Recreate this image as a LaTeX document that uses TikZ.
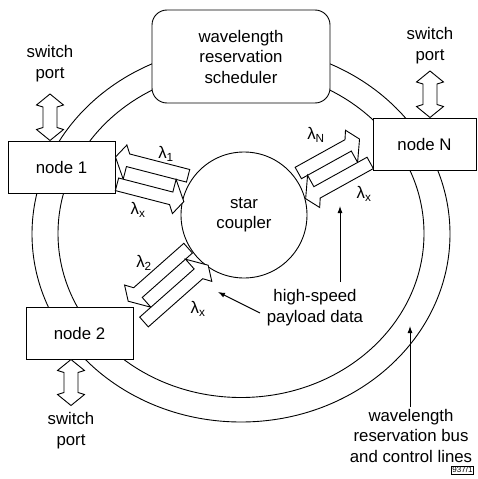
\documentclass[tikz,border=0pt]{standalone}
\usepackage{fontspec}
\setmainfont{Liberation Sans}
\usetikzlibrary{arrows.meta}
\tikzset{
  thin line/.style={line width=0.9pt},
  box/.style={draw, line width=0.9pt, fill=white, inner sep=0pt, align=center},
  hollow/.style={draw, line width=0.9pt, fill=white, line join=miter},
  lbl/.style={inner sep=0pt, align=center},
  pointer/.style={line width=0.9pt, -{Latex[length=7pt,width=5pt]}},
  pics/lamarrow/.style={code={
    \path[hollow] (0,6.5) -- ({#1-13},6.5) -- ({#1-8},14.5) -- (#1,0)
      -- ({#1-13},-19.5) -- ({#1-13},-6.5) -- (0,-6.5) -- cycle;}},
  pics/portarrow/.style={code={
    \path[hollow] (0,0) -- (11,13.5) -- (13,7) -- ({#1-13},7) -- ({#1-11},13.5)
      -- (#1,0) -- ({#1-11},-13.5) -- ({#1-13},-7) -- (13,-7) -- (11,-13.5) -- cycle;}},
}
\begin{document}
\begin{tikzpicture}[x=1pt,y=-1pt,font=\fontsize{16.8}{20.5}\selectfont]
\useasboundingbox (0,0) rectangle (477,479);

% ring (reservation bus)
\draw[thin line] (241,234) ellipse [x radius=209, y radius=188];
\draw[thin line] (241,233.5) ellipse [x radius=183, y radius=164];

% scheduler and nodes
\node[box, rounded corners=15pt, minimum width=178pt, minimum height=93pt] (sched) at (241,56.5) {wavelength\\reservation\\scheduler};
\node[box, minimum width=107pt, minimum height=52pt] (n1) at (61.5,167) {node 1};
\node[box, minimum width=103pt, minimum height=52pt] (nN) at (424.5,144) {node N};
\node[box, minimum width=107pt, minimum height=52pt] (n2) at (79.5,333) {node 2};
\node[box, circle, minimum size=126pt] (coupler) at (244,215) {star\\coupler};

% wavelength arrows, node 1
\begin{scope}[shift={(188.1,175.8)}, rotate=165.5] \pic[transform shape] (a1in) {lamarrow=75}; \end{scope}
\begin{scope}[shift={(117,184.3)}, rotate=-14.5] \pic[transform shape] (a1out) {lamarrow=69}; \end{scope}
% node N
\begin{scope}[shift={(298.3,173)}, rotate=29, yscale=-1] \pic[transform shape] (aNin) {lamarrow=70}; \end{scope}
\begin{scope}[shift={(370.2,162.9)}, rotate=209, yscale=-1] \pic[transform shape] (aNout) {lamarrow=73.8}; \end{scope}
% node 2
\begin{scope}[shift={(188.1,248.2)}, rotate=221.5] \pic[transform shape] (a2in) {lamarrow=80}; \end{scope}
\begin{scope}[shift={(144,322)}, rotate=41.5] \pic[transform shape] (a2out) {lamarrow=85.7}; \end{scope}

% switch port arrows
\begin{scope}[shift={(50,94)}, rotate=-90] \pic[transform shape] (p1) {portarrow=46.5}; \end{scope}
\begin{scope}[shift={(430,71)}, rotate=-90] \pic[transform shape] (pN) {portarrow=46.5}; \end{scope}
\begin{scope}[shift={(71,359.5)}, rotate=-90] \pic[transform shape] (p2) {portarrow=46}; \end{scope}

% labels
\node[lbl] (sp1) at (50,63.5) {switch\\port};
\node[lbl] (spN) at (430,45.5) {switch\\port};
\node[lbl] (sp2) at (71,430.5) {switch\\port};
\node[lbl] (l1) at (166,154) {λ\textsubscript{1}};
\node[lbl] (l1x) at (138,210) {λ\textsubscript{x}};
\node[lbl] (lN) at (316,135) {λ\textsubscript{N}};
\node[lbl] (lNx) at (364,194) {λ\textsubscript{x}};
\node[lbl] (l2) at (144,263) {λ\textsubscript{2}};
\node[lbl] (l2x) at (198,309) {λ\textsubscript{x}};
\node[lbl] (hs) at (315,307.5) {high-speed\\payload data};
\node[lbl] (bus) at (411,435.5) {wavelength\\reservation bus\\and control lines};
\node[draw, line width=0.6pt, inner sep=1pt, font=\fontsize{8}{9}\selectfont] (fig) at (462.5,470) {937/1};

% pointers
\coordinate (hsA) at (340,282);
\coordinate (hsAtip) at (340,206);
\coordinate (hsB) at (260,313);
\coordinate (hsBtip) at (218,292);
\coordinate (busA) at (410,407);
\coordinate (busAtip) at (410,326);
\draw[pointer] (hsA) -- (hsAtip);
\draw[pointer] (hsB) -- (hsBtip);
\draw[pointer] (busA) -- (busAtip);
\end{tikzpicture}
\end{document}
